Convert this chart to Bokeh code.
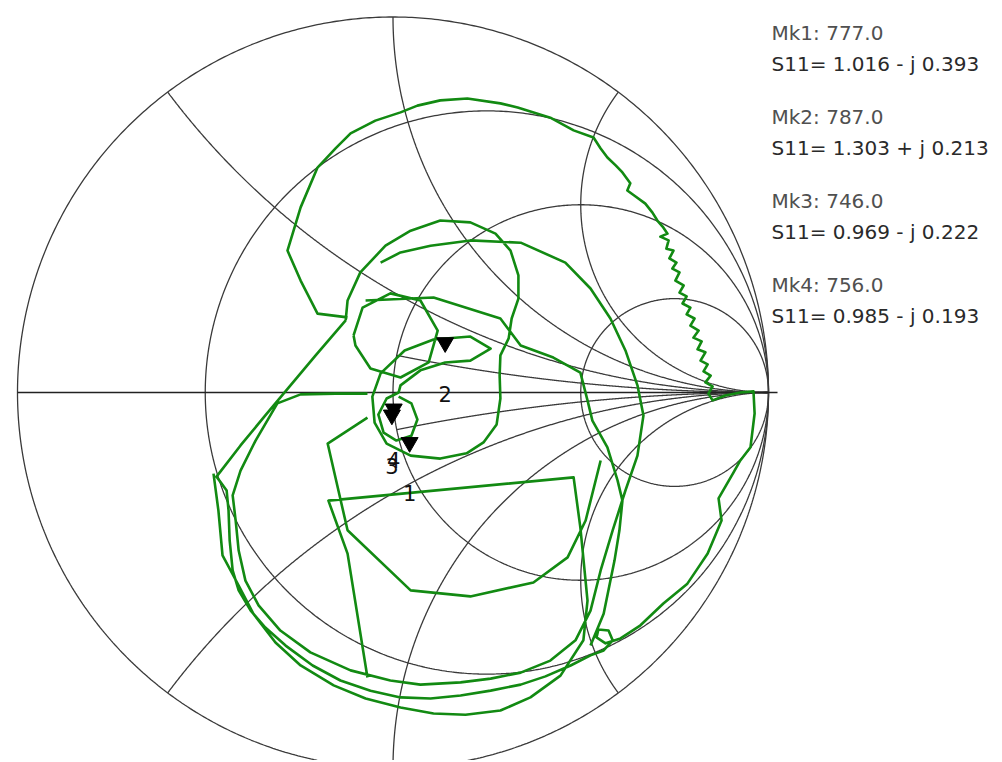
import numpy as np
from bokeh.plotting import figure
from bokeh.models import Range1d
from bokeh.core.properties import value
from bokeh.embed import file_html
from bokeh.resources import INLINE

# ---------------- Smith-chart grid values ----------------
r_circles = [1/3, 1.0, 3.0]
x_arcs = [0.5, 1.0, 2.0, -0.5, -1.0, -2.0]
x_arcs_partial = [0.2, -0.2]          # drawn only for r >= 1

# ---------------- Markers ----------------
mk_names = ["Mk1", "Mk2", "Mk3", "Mk4"]
mk_labels = ["1", "2", "3", "4"]
mk_freq = [777.0, 787.0, 746.0, 756.0]
mk_r = [1.016, 1.303, 0.969, 0.985]
mk_x = [-0.393, 0.213, -0.222, -0.193]

# ---------------- S11 trace (reflection coefficient) ----------------
seg1_re = [-0.121, -0.201, -0.246, -0.281, -0.246, -0.201, -0.153, -0.113, -0.047, 0.020,
           0.065, 0.126, 0.198, 0.286, 0.332, 0.419, 0.481, 0.534, 0.553, 0.571,
           0.593, 0.611, 0.632, 0.624, 0.646, 0.672, 0.691,
           0.704, 0.718, 0.731, 0.712, 0.734, 0.728, 0.747, 0.736, 0.755, 0.744,
           0.763, 0.752, 0.774, 0.763, 0.782, 0.771, 0.792, 0.782, 0.803, 0.792,
           0.814, 0.800, 0.822, 0.811, 0.832, 0.819, 0.838, 0.827, 0.846, 0.832,
           0.851, 0.840, 0.851, 0.885,
           0.925, 0.960, 0.963, 0.952, 0.925, 0.907, 0.867, 0.875, 0.856, 0.838,
           0.811, 0.784, 0.720, 0.659, 0.606, 0.566, 0.542, 0.547, 0.574, 0.585,
           0.561, 0.526, 0.473, 0.406, 0.340, 0.260, 0.180, 0.100, 0.020, -0.060,
           -0.140, -0.214, -0.286, -0.340, -0.379, -0.411, -0.427, -0.435, -0.438, -0.443,
           -0.470, -0.406, -0.340, -0.273, -0.206, -0.126]
seg1_im = [0.200, 0.210, 0.298, 0.378, 0.493, 0.599, 0.650, 0.690, 0.724, 0.746,
           0.764, 0.778, 0.783, 0.770, 0.759, 0.732, 0.698, 0.679, 0.650, 0.626,
           0.605, 0.586, 0.557, 0.538, 0.522, 0.503, 0.479,
           0.458, 0.442, 0.423, 0.415, 0.405, 0.383, 0.378, 0.357, 0.346, 0.330,
           0.320, 0.298, 0.285, 0.266, 0.256, 0.237, 0.226, 0.208, 0.197, 0.178,
           0.165, 0.146, 0.136, 0.115, 0.107, 0.085, 0.075, 0.056, 0.045, 0.027,
           0.016, -0.003, -0.021, -0.008,
           0.000, 0.003, -0.056, -0.146, -0.181, -0.213, -0.282, -0.341, -0.386, -0.429,
           -0.469, -0.509, -0.562, -0.620, -0.655, -0.668, -0.652, -0.631, -0.634, -0.660,
           -0.687, -0.700, -0.727, -0.756, -0.778, -0.794, -0.807, -0.815, -0.812, -0.794,
           -0.767, -0.727, -0.674, -0.626, -0.581, -0.527, -0.474, -0.394, -0.314, -0.261,
           -0.224, -0.141, -0.061, 0.019, 0.099, 0.192]

seg2_re = [-0.126, -0.121, -0.087, -0.020, 0.047, 0.126, 0.206, 0.273, 0.313, 0.334,
           0.334, 0.316, 0.308, 0.286, 0.284, 0.286, 0.276, 0.241, 0.196, 0.126,
           0.047, -0.017, -0.049, -0.055, -0.033, 0.031, 0.108, 0.206, 0.260, 0.206,
           0.139, 0.073, 0.020, 0.015, -0.017, -0.039, -0.025, 0.009, 0.049, 0.065,
           0.049, 0.015]
seg2_im = [0.192, 0.245, 0.320, 0.391, 0.431, 0.458, 0.453, 0.423, 0.378, 0.312,
           0.250, 0.197, 0.144, 0.099, 0.045, -0.016, -0.085, -0.133, -0.162, -0.176,
           -0.168, -0.136, -0.080, -0.011, 0.051, 0.112, 0.141, 0.149, 0.117, 0.085,
           0.080, 0.059, 0.019, 0.000, -0.016, -0.059, -0.107, -0.128, -0.115, -0.072,
           -0.029, -0.011]

seg3_re = [-0.073, 0.108, 0.286, 0.340, 0.427, 0.499, 0.518, 0.531, 0.571, 0.598,
           0.611, 0.603, 0.590, 0.561, 0.526]
seg3_im = [0.245, 0.253, 0.197, 0.125, 0.093, 0.053, -0.021, -0.075, -0.146, -0.234,
           -0.288, -0.367, -0.447, -0.589, -0.674]

seg4_re = [-0.033, 0.020, 0.100, 0.206, 0.340, 0.459, 0.526, 0.579, 0.619, 0.651,
           0.667, 0.651, 0.619, 0.585, 0.553, 0.526, 0.486, 0.419, 0.340, 0.260,
           0.180, 0.073, -0.007, -0.113, -0.220, -0.300, -0.358, -0.393, -0.411, -0.419,
           -0.427, -0.406, -0.366, -0.308, -0.246, -0.153, -0.068]
seg4_im = [0.346, 0.373, 0.391, 0.405, 0.399, 0.346, 0.277, 0.197, 0.112, 0.019,
           -0.061, -0.168, -0.261, -0.367, -0.474, -0.581, -0.660, -0.714, -0.746, -0.762,
           -0.772, -0.778, -0.767, -0.740, -0.692, -0.634, -0.567, -0.501, -0.421, -0.341,
           -0.274, -0.208, -0.128, -0.029, -0.005, -0.003, -0.003]

seg5_re = [-0.068, -0.174, -0.121, 0.047, 0.206, 0.374, 0.465, 0.513, 0.553]
seg5_im = [-0.067, -0.136, -0.367, -0.527, -0.543, -0.506, -0.439, -0.341, -0.181]

seg6_re = [-0.068, -0.121, -0.172, 0.481, 0.499, 0.518, 0.507, 0.446, 0.366, 0.286,
           0.193, 0.108, 0.020, -0.073, -0.158, -0.246, -0.313, -0.372, -0.411, -0.454,
           -0.465, -0.478]
seg6_im = [-0.759, -0.429, -0.288, -0.226, -0.360, -0.554, -0.660, -0.754, -0.812, -0.847,
           -0.858, -0.855, -0.839, -0.815, -0.780, -0.727, -0.666, -0.589, -0.514, -0.434,
           -0.314, -0.216]

seg7_re = [-0.105, -0.081, -0.007, 0.073, 0.119, 0.095, 0.020, -0.060, -0.100, -0.105]
seg7_im = [0.152, 0.226, 0.264, 0.245, 0.165, 0.080, 0.040, 0.064, 0.125, 0.152]

segments = [(seg1_re, seg1_im), (seg2_re, seg2_im), (seg3_re, seg3_im), (seg4_re, seg4_im),
            (seg5_re, seg5_im), (seg6_re, seg6_im), (seg7_re, seg7_im)]

# ---------------- figure ----------------
S = 375.5                     # pixels per unit reflection coefficient
W, H = 1000, 760
x0 = -392.5 / S
y1 = 392.0 / S
p = figure(width=W, height=H, output_backend="svg", toolbar_location=None,
           x_range=Range1d(x0, x0 + W / S), y_range=Range1d(y1 - H / S, y1),
           x_axis_type=None, y_axis_type=None, min_border=0)
p.grid.visible = False
p.outline_line_color = None
p.background_fill_color = "white"
p.border_fill_color = "white"

GRID = "#3a3a3a"
GW = 1.3


def g_of(z):
    return (z - 1) / (z + 1)


# outer circle
th = np.linspace(0, 2 * np.pi, 720)
p.line(np.cos(th), np.sin(th), line_color=GRID, line_width=GW)

# resistance circles
for r in r_circles:
    c = r / (1 + r)
    rad = 1 / (1 + r)
    p.line(c + rad * np.cos(th), rad * np.sin(th), line_color=GRID, line_width=GW)

# reactance arcs
t = np.linspace(0, 0.9995, 900)
rr = t / (1 - t)
for x in x_arcs:
    g = g_of(rr + 1j * x)
    p.line(g.real, g.imag, line_color=GRID, line_width=GW)
for x in x_arcs_partial:
    g = g_of(1 + rr + 1j * x)
    p.line(g.real, g.imag, line_color=GRID, line_width=GW)

# real axis
p.line([-1.0, 1.024], [0, 0], line_color="#222222", line_width=1.6)

# ---------------- trace ----------------
tr_x, tr_y = [], []
for sx, sy in segments:
    tr_x += list(sx) + [np.nan]
    tr_y += list(sy) + [np.nan]
p.line(tr_x, tr_y, line_color="#128a12", line_width=2.6, line_join="round")

# ---------------- markers ----------------
zm = np.array(mk_r) + 1j * np.array(mk_x)
gm = g_of(zm)
tri_up = 20 / S
lab_dn = 31 / S
p.scatter(gm.real, gm.imag + tri_up, marker="inverted_triangle", size=17,
          fill_color="black", line_color="black")
p.text(gm.real, gm.imag - lab_dn, text=mk_labels, text_align="center",
       text_baseline="middle", text_font=value("DejaVu Sans"), text_font_size="21px",
       text_color="#111111")

# ---------------- marker readout ----------------
tx = 378.5 / S
mk_lines = [f"{n}: {f:.1f}" for n, f in zip(mk_names, mk_freq)]
s_lines = [f"S11= {r:.3f} {'+' if x >= 0 else '-'} j {abs(x):.3f}" for r, x in zip(mk_r, mk_x)]
ty_mk = [(360 - 84.3 * i) / S for i in range(4)]
ty_s = [(329 - 84.3 * i) / S for i in range(4)]
p.text([tx] * 4, ty_mk, text=mk_lines, text_baseline="middle", text_align="left",
       text_font=value("DejaVu Sans"), text_font_size="20px", text_color="#505050")
p.text([tx] * 4, ty_s, text=s_lines, text_baseline="middle", text_align="left",
       text_font=value("DejaVu Sans"), text_font_size="20px", text_color="#2a2a2a")

open("out.html", "w").write(file_html(p, INLINE))
